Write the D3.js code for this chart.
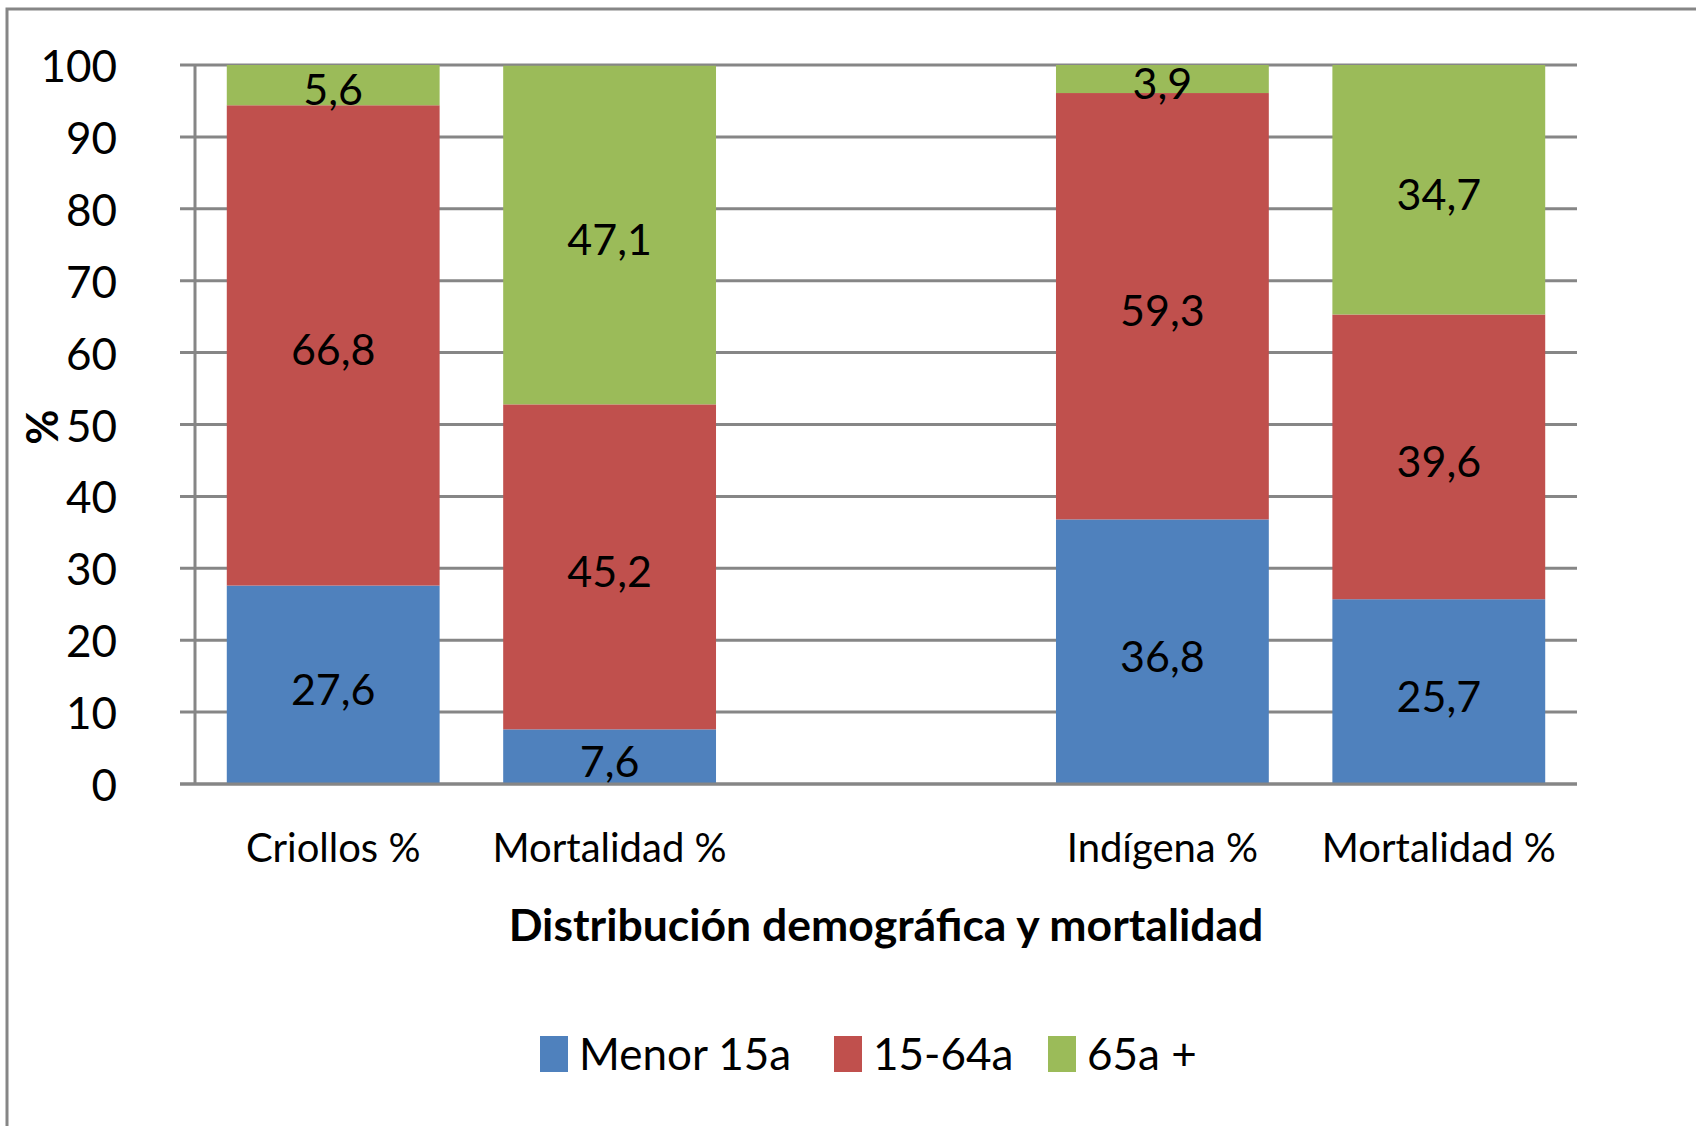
<!DOCTYPE html>
<html>
<head>
<meta charset="utf-8">
<script src="https://cdn.jsdelivr.net/npm/d3@7"></script>
<style>
  body { margin: 0; background: #fff; }
  text { font-family: Lato, "Noto Sans", sans-serif; fill: #000; }
</style>
</head>
<body>
<script>
"use strict";

// categories (slot 2 is the empty gap between the two groups)
var categories = ["Criollos %", "Mortalidad %", "", "Indígena %", "Mortalidad %"];
var seriesNames = ["Menor 15a", "15-64a", "65a +"];
var menor15 = [27.6, 7.6, null, 36.8, 25.7];
var de15a64 = [66.8, 45.2, null, 59.3, 39.6];
var mas65 = [5.6, 47.1, null, 3.9, 34.7];
var yTicks = [0, 10, 20, 30, 40, 50, 60, 70, 80, 90, 100];
var colors = ["#4F81BD", "#C0504D", "#9BBB59"];

function init() {
  var W = 1696, H = 1126;
  var plotL = 195, plotR = 1577, plotT = 65, plotB = 784;

  var svg = d3.select("body").append("svg")
    .attr("width", W)
    .attr("height", H);

  // outer frame
  svg.append("rect")
    .attr("x", 7).attr("y", 9)
    .attr("width", W).attr("height", H)
    .attr("fill", "none")
    .attr("stroke", "#868686")
    .attr("stroke-width", 3);

  var rows = categories.map(function (c, i) {
    return { idx: i, cat: c, "Menor 15a": menor15[i] || 0, "15-64a": de15a64[i] || 0, "65a +": mas65[i] || 0, empty: menor15[i] === null };
  });

  var xScale = d3.scaleBand()
    .domain(d3.range(categories.length))
    .range([plotL, plotR])
    .paddingInner(0.23)
    .paddingOuter(0.115);

  var yScale = d3.scaleLinear()
    .domain([0, 100])
    .range([plotB, plotT]);

  // gridlines + left tick marks
  svg.append("g")
    .selectAll("line")
    .data(yTicks)
    .enter()
    .append("line")
    .attr("x1", plotL - 15)
    .attr("x2", plotR)
    .attr("y1", function (d) { return yScale(d); })
    .attr("y2", function (d) { return yScale(d); })
    .attr("stroke", "#868686")
    .attr("stroke-width", 3);

  // y axis line
  svg.append("line")
    .attr("x1", plotL).attr("x2", plotL)
    .attr("y1", plotT - 1).attr("y2", plotB + 1)
    .attr("stroke", "#868686")
    .attr("stroke-width", 3);

  // y tick labels
  svg.append("g")
    .selectAll("text")
    .data(yTicks)
    .enter()
    .append("text")
    .attr("x", 117)
    .attr("y", function (d) { return yScale(d) + 17; })
    .attr("text-anchor", "end")
    .attr("font-size", "44px")
    .text(function (d) { return d; });

  var stack = d3.stack().keys(seriesNames);
  var layers = stack(rows);

  var g = svg.append("g");
  layers.forEach(function (layer, li) {
    g.selectAll(".s" + li)
      .data(layer.filter(function (d) { return !d.data.empty; }))
      .enter()
      .append("rect")
      .attr("x", function (d) { return xScale(d.data.idx); })
      .attr("y", function (d) { return yScale(d[1]); })
      .attr("width", xScale.bandwidth())
      .attr("height", function (d) { return yScale(d[0]) - yScale(d[1]); })
      .attr("fill", colors[li]);
  });

  // redraw bottom axis on top of bars
  svg.append("line")
    .attr("x1", plotL - 15).attr("x2", plotR)
    .attr("y1", plotB).attr("y2", plotB)
    .attr("stroke", "#868686")
    .attr("stroke-width", 3);

  // value labels, centred in each segment
  var lg = svg.append("g");
  layers.forEach(function (layer, li) {
    lg.selectAll(".l" + li)
      .data(layer.filter(function (d) { return !d.data.empty; }))
      .enter()
      .append("text")
      .attr("x", function (d) { return xScale(d.data.idx) + xScale.bandwidth() / 2; })
      .attr("y", function (d) { return yScale((d[0] + d[1]) / 2) + 20; })
      .attr("text-anchor", "middle")
      .attr("font-size", "43px")
      .text(function (d) { return String(d.data[seriesNames[li]]).replace(".", ","); });
  });

  // category labels
  svg.append("g")
    .selectAll("text")
    .data(rows)
    .enter()
    .append("text")
    .attr("x", function (d) { return xScale(d.idx) + xScale.bandwidth() / 2; })
    .attr("y", 862)
    .attr("text-anchor", "middle")
    .attr("font-size", "40px")
    .text(function (d) { return d.cat; });

  // axis titles
  svg.append("text")
    .attr("x", 886)
    .attr("y", 941)
    .attr("text-anchor", "middle")
    .attr("font-size", "44.5px")
    .attr("font-weight", "bold")
    .text("Distribución demográfica y mortalidad");

  svg.append("text")
    .attr("transform", "translate(58,427) rotate(-90)")
    .attr("text-anchor", "middle")
    .attr("font-size", "43px")
    .attr("font-weight", "bold")
    .text("%");

  // legend
  var legendX = [540, 834, 1048];
  var legend = svg.append("g")
    .selectAll("g")
    .data(seriesNames)
    .enter()
    .append("g")
    .attr("transform", function (d, i) { return "translate(" + legendX[i] + ",1036)"; });

  legend.append("rect")
    .attr("width", 28)
    .attr("height", 36)
    .attr("fill", function (d, i) { return colors[i]; });

  legend.append("text")
    .attr("x", 39)
    .attr("y", 34)
    .attr("font-size", "44px")
    .text(function (d) { return d; });
}

window.onload = init;
</script>
</body>
</html>
